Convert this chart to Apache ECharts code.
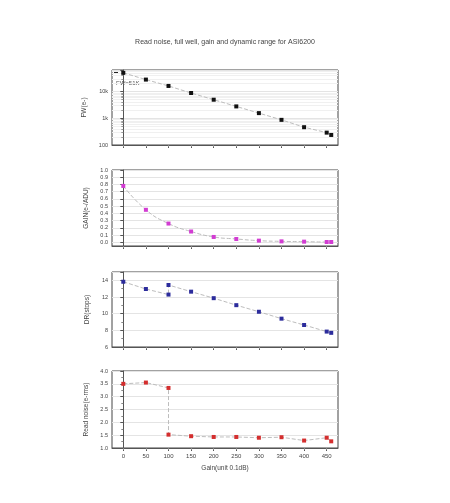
<!DOCTYPE html>
<html>
<head>
<meta charset="utf-8">
<script src="https://cdn.jsdelivr.net/npm/echarts@6/dist/echarts.min.js"></script>
<style>html,body{margin:0;padding:0;background:#fff;}#c{width:450px;height:503px;}</style>
</head>
<body>
<div id="c"></div>
<script>
var titleText = 'Read noise, full well, gain and dynamic range for ASI6200';
var xTicks = [0, 50, 100, 150, 200, 250, 300, 350, 400, 450];
var gainX = [0, 50, 100, 150, 200, 250, 300, 350, 400, 450, 460];
var fullWell = [50800, 28400, 16400, 8900, 5000, 2800, 1570, 877, 465, 291, 238];
var gainValues = [0.78, 0.45, 0.26, 0.15, 0.075, 0.047, 0.024, 0.014, 0.01, 0.005, 0.005];
var drX = [0, 50, 100, 100, 150, 200, 250, 300, 350, 400, 450, 460];
var dynamicRange = [13.83, 12.96, 12.29, 13.44, 12.64, 11.86, 11.02, 10.23, 9.4, 8.64, 7.85, 7.7];
var rnX = [0, 50, 100, 100, 150, 200, 250, 300, 350, 400, 450, 460];
var readNoise = [3.50, 3.55, 3.34, 1.52, 1.46, 1.43, 1.43, 1.40, 1.42, 1.29, 1.40, 1.26];

function pairs(xs, ys) { return xs.map(function (x, i) { return [x, ys[i]]; }); }

var FONT = 'Liberation Sans';
var axisCol = '#555';
var gridCol = '#e4e4e4';
var tops = [70, 170, 272, 371];
var heights = [75, 76, 75, 77];
var grids = tops.map(function (t, i) {
  return { left: 112, top: t, width: 226, height: heights[i], show: true, borderColor: '#444', borderWidth: 1, backgroundColor: 'transparent' };
});
var xAxes = tops.map(function (t, i) {
  return {
    type: 'value', gridIndex: i, min: -25, max: 475,
    interval: 50,
    axisLine: { show: true, onZero: false, lineStyle: { color: axisCol } },
    axisTick: { show: true, length: 3, lineStyle: { color: axisCol }, customValues: xTicks },
    minorTick: { show: true, splitNumber: 2, length: 2, lineStyle: { color: '#888' } },
    axisLabel: { show: i === 3, fontSize: 6, color: '#444', fontFamily: FONT, customValues: xTicks, margin: 5 },
    splitLine: { show: false },
    name: i === 3 ? 'Gain(unit 0.1dB)' : '',
    nameLocation: 'middle', nameGap: 17,
    nameTextStyle: { fontSize: 6.5, color: '#444', fontFamily: FONT }
  };
});
function yBase(i, name) {
  return {
    gridIndex: i, name: name, nameLocation: 'middle', nameGap: 17,
    nameTextStyle: { fontSize: 6.5, color: '#444', fontFamily: FONT },
    axisLine: { show: true, lineStyle: { color: axisCol } },
    axisTick: { show: true, length: 3, lineStyle: { color: axisCol } },
    minorTick: { show: true, length: 2, splitNumber: 2, lineStyle: { color: '#888' } },
    axisLabel: { fontSize: 5.5, color: '#444', fontFamily: FONT, margin: 4, showMaxLabel: false },
    splitLine: { show: true, lineStyle: { color: gridCol, width: 1 } }
  };
}
var y0 = yBase(0, 'FW(e-)');
y0.type = 'log'; y0.min = 100; y0.max = 65000; y0.logBase = 10;
y0.minorTick = { show: true, splitNumber: 9, length: 2, lineStyle: { color: '#999' } };
y0.minorSplitLine = { show: true, lineStyle: { color: '#f0f0f0' } };
y0.axisLabel.formatter = function (v) { return v >= 1000 ? (v / 1000) + 'k' : String(v); };
var y1 = yBase(1, 'GAIN(e-/ADU)');
y1.type = 'value'; y1.min = -0.05; y1.max = 1.0; y1.splitNumber = 10;
y1.axisLabel.showMinLabel = false; y1.axisLabel.showMaxLabel = true;
y1.axisLabel.formatter = function (v) { return v.toFixed(1); };
y1.minorTick.show = false;
var y2 = yBase(2, 'DR(stops)');
y2.type = 'value'; y2.min = 6; y2.max = 15; y2.interval = 2;
var y3 = yBase(3, 'Read noise(e-rms)');
y3.type = 'value'; y3.min = 1.0; y3.max = 4.0; y3.interval = 0.5;
y3.axisLabel.showMaxLabel = true;
y3.axisLabel.formatter = function (v) { return v.toFixed(1); };

function ser(i, data, color, smooth) {
  return {
    type: 'line', xAxisIndex: i, yAxisIndex: i, data: data, smooth: smooth || false,
    symbol: 'rect', symbolSize: 4, itemStyle: { color: color },
    lineStyle: { color: '#bdbdbd', width: 1, type: 'dashed' }, animation: false
  };
}

var chart = echarts.init(document.getElementById('c'));
chart.setOption({
  backgroundColor: '#fff',
  animation: false,
  title: { text: titleText, left: 'center', top: 34, textStyle: { fontSize: 7, fontWeight: 'normal', color: '#444', fontFamily: FONT } },
  grid: grids,
  xAxis: xAxes,
  yAxis: [y0, y1, y2, y3],
  graphic: [
    { type: 'text', left: 116, top: 80, style: { text: 'FW=51K', fontSize: 6, fill: '#555', fontFamily: FONT } },
    { type: 'rect', shape: { x: 114, y: 71.5, width: 4, height: 1.5 }, style: { fill: '#222' } }
  ],
  series: [
    ser(0, pairs(gainX, fullWell), '#111'),
    ser(1, pairs(gainX, gainValues), '#d23cd2', true),
    ser(2, pairs(drX, dynamicRange), '#2c2c9c'),
    ser(3, pairs(rnX, readNoise), '#d42e2e')
  ]
});
</script>
</body>
</html>
